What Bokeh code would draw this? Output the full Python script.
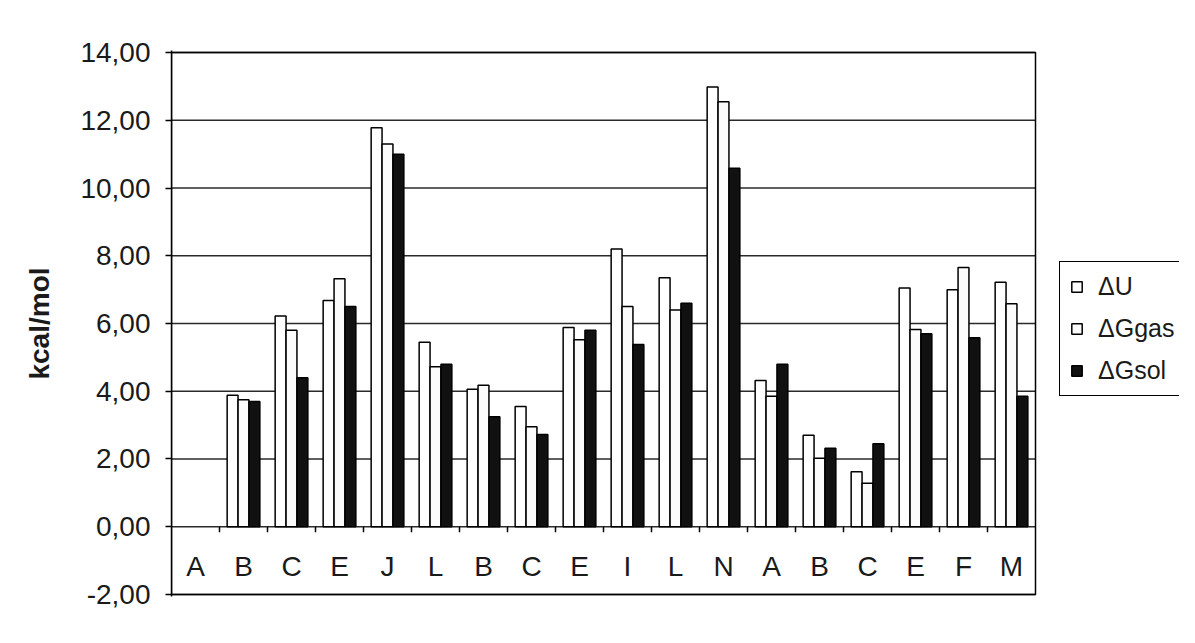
from bokeh.plotting import figure
from bokeh.models import Range1d, FixedTicker, Legend, LegendItem, ColumnDataSource
from bokeh.core.properties import value
from bokeh.transform import dodge
from bokeh.embed import file_html
from bokeh.resources import INLINE

nan = float("nan")

categories = ["A", "B", "C", "E", "J", "L", "B", "C", "E", "I", "L", "N",
              "A", "B", "C", "E", "F", "M"]
dU    = [nan, 3.88, 6.22, 6.68, 11.78, 5.45, 4.06, 3.55, 5.88, 8.20, 7.35, 12.98,
         4.32, 2.70, 1.62, 7.05, 7.00, 7.22]
dGgas = [nan, 3.75, 5.80, 7.32, 11.30, 4.72, 4.18, 2.95, 5.52, 6.50, 6.40, 12.55,
         3.85, 2.02, 1.28, 5.82, 7.65, 6.58]
dGsol = [nan, 3.70, 4.40, 6.50, 11.00, 4.80, 3.25, 2.72, 5.80, 5.38, 6.60, 10.58,
         4.80, 2.32, 2.45, 5.70, 5.58, 3.85]
series_names = ["\u0394U", "\u0394Ggas", "\u0394Gsol"]
y_ticks = [-2, 0, 2, 4, 6, 8, 10, 12, 14]
y_tick_labels = ["-2,00", "0,00", "2,00", "4,00", "6,00", "8,00", "10,00", "12,00", "14,00"]
y_label = "kcal/mol"

FONT = "Liberation Sans"
TXT = "#1a1a1a"

n = len(categories)
idx = [i + 0.5 for i in range(n)]
src = ColumnDataSource(dict(x=idx, cat=categories, dU=dU, dGgas=dGgas, dGsol=dGsol,
                            ly=[-1.18] * n))

# frame spans to the right canvas edge so the legend (outside the plot box) is not clipped;
# the plot box itself covers categories 0..n
p = figure(width=1179, height=627, output_backend="svg", toolbar_location=None,
           x_range=Range1d(0, 21), y_range=Range1d(-2.06, 14.06),
           min_border_left=171, min_border_right=0, min_border_top=50,
           min_border_bottom=31)
p.background_fill_color = "white"
p.border_fill_color = "white"
p.outline_line_color = None

p.xaxis.visible = False
p.xgrid.visible = False
p.ygrid.visible = False

ya = p.yaxis[0]
ya.ticker = FixedTicker(ticks=y_ticks)
ya.major_label_overrides = {t: l for t, l in zip(y_ticks, y_tick_labels)}
ya.major_label_text_font = FONT
ya.major_label_text_font_size = "28px"
ya.major_label_text_color = TXT
ya.major_label_standoff = 15
ya.major_tick_out = 6
ya.major_tick_in = 0
ya.minor_tick_out = 0
ya.minor_tick_in = 0
ya.axis_line_color = "black"
ya.axis_line_width = 1.5
ya.major_tick_line_color = "black"
ya.major_tick_line_width = 1.5
ya.axis_label = y_label
ya.axis_label_text_font = FONT
ya.axis_label_text_font_size = "28px"
ya.axis_label_text_font_style = "bold"
ya.axis_label_text_color = TXT
ya.axis_label_standoff = 22

# horizontal gridlines across the plot box
p.segment(x0=[0] * len(y_ticks), y0=y_ticks, x1=[n] * len(y_ticks), y1=y_ticks,
          line_color="#2a2a2a", line_width=1.5, level="underlay")

w = 0.227
r1 = p.vbar(x=dodge("x", -w, range=p.x_range), top="dU", bottom=0, width=w, source=src,
            fill_color="white", line_color="black", line_width=1.5)
r2 = p.vbar(x=dodge("x", 0, range=p.x_range), top="dGgas", bottom=0, width=w, source=src,
            fill_color="#fbfbfb", line_color="black", line_width=1.5)
r3 = p.vbar(x=dodge("x", w, range=p.x_range), top="dGsol", bottom=0, width=w, source=src,
            fill_color="#111111", line_color="black", line_width=1.5)

# category tick marks at boundaries below the zero line
bounds = list(range(1, n))
p.segment(x0=bounds, y0=[0] * len(bounds), x1=bounds, y1=[-0.16] * len(bounds),
          line_color="black", line_width=1.5)

# plot box border
p.quad(left=[0], right=[n], bottom=[y_ticks[0]], top=[y_ticks[-1]],
       fill_color=None, line_color="black", line_width=1.5)

p.text(x="x", y="ly", text="cat", source=src, text_font=value(FONT),
       text_font_size="28px", text_color=TXT, text_align="center",
       text_baseline="middle")

legend = Legend(items=[LegendItem(label=series_names[0], renderers=[r1]),
                       LegendItem(label=series_names[1], renderers=[r2]),
                       LegendItem(label=series_names[2], renderers=[r3])],
                location=(888, 200))
legend.background_fill_color = "white"
legend.background_fill_alpha = 1.0
legend.border_line_color = "black"
legend.border_line_width = 1.5
legend.border_line_alpha = 1.0
legend.label_text_font = FONT
legend.label_text_font_size = "25px"
legend.label_text_color = TXT
legend.glyph_width = 13
legend.glyph_height = 13
legend.label_standoff = 15
legend.label_height = 29
legend.label_width = 110
legend.spacing = 13
legend.padding = 10
legend.margin = 0
p.add_layout(legend)

open("out.html", "w").write(file_html(p, INLINE))
